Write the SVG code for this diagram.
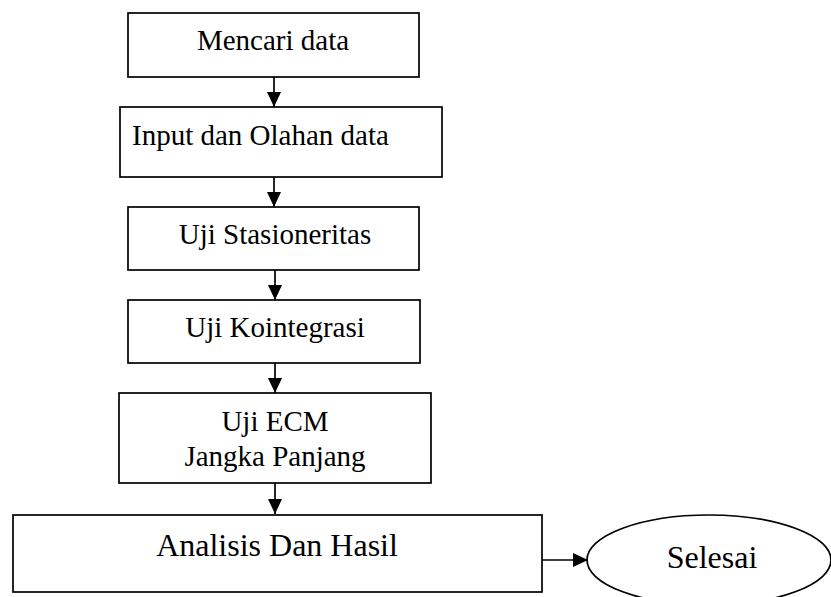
<svg xmlns="http://www.w3.org/2000/svg" width="831" height="597" viewBox="0 0 831 597">
<style>
.box{fill:#fff;stroke:#000;stroke-width:1.7}
.t{font-family:"Liberation Serif","Times New Roman",serif;font-size:29px;fill:#000;text-anchor:middle}
.tl{font-size:32px}
.c{stroke:#000;stroke-width:1.7;fill:none}
</style>
<defs>
<marker id="ah" markerUnits="userSpaceOnUse" markerWidth="15" markerHeight="14" refX="15" refY="7" orient="auto">
<path d="M0,0 L15,7 L0,14 Z" fill="#000"/>
</marker>
</defs>
<rect width="831" height="597" fill="#fff"/>
<g id="n1"><rect class="box" x="128" y="13" width="291" height="64"/><text class="t" x="273" y="50">Mencari data</text></g>
<g id="n2"><rect class="box" x="120" y="107" width="322" height="70"/><text class="t" x="132" y="145" style="text-anchor:start">Input dan Olahan data</text></g>
<g id="n3"><rect class="box" x="128" y="207" width="291" height="63"/><text class="t" x="275" y="244">Uji Stasioneritas</text></g>
<g id="n4"><rect class="box" x="128" y="300" width="292" height="63"/><text class="t" x="275" y="337">Uji Kointegrasi</text></g>
<g id="n5"><rect class="box" x="119" y="393" width="312" height="90"/><text class="t" x="275" y="431">Uji ECM</text><text class="t" x="275" y="466">Jangka Panjang</text></g>
<g id="n6"><rect class="box" x="13" y="515" width="529" height="77"/><text class="t tl" x="277" y="556">Analisis Dan Hasil</text></g>
<g id="n7"><ellipse class="box" cx="709" cy="560" rx="122" ry="45"/><text class="t tl" x="712" y="568">Selesai</text></g>
<g id="connectors">
<line class="c" x1="274" y1="77" x2="274" y2="107" marker-end="url(#ah)"/>
<line class="c" x1="274" y1="177" x2="274" y2="207" marker-end="url(#ah)"/>
<line class="c" x1="275" y1="270" x2="275" y2="300" marker-end="url(#ah)"/>
<line class="c" x1="275" y1="363" x2="275" y2="393" marker-end="url(#ah)"/>
<line class="c" x1="275" y1="483" x2="275" y2="514" marker-end="url(#ah)"/>
<line class="c" x1="542" y1="560" x2="588" y2="560" marker-end="url(#ah)"/>
</g>
</svg>
